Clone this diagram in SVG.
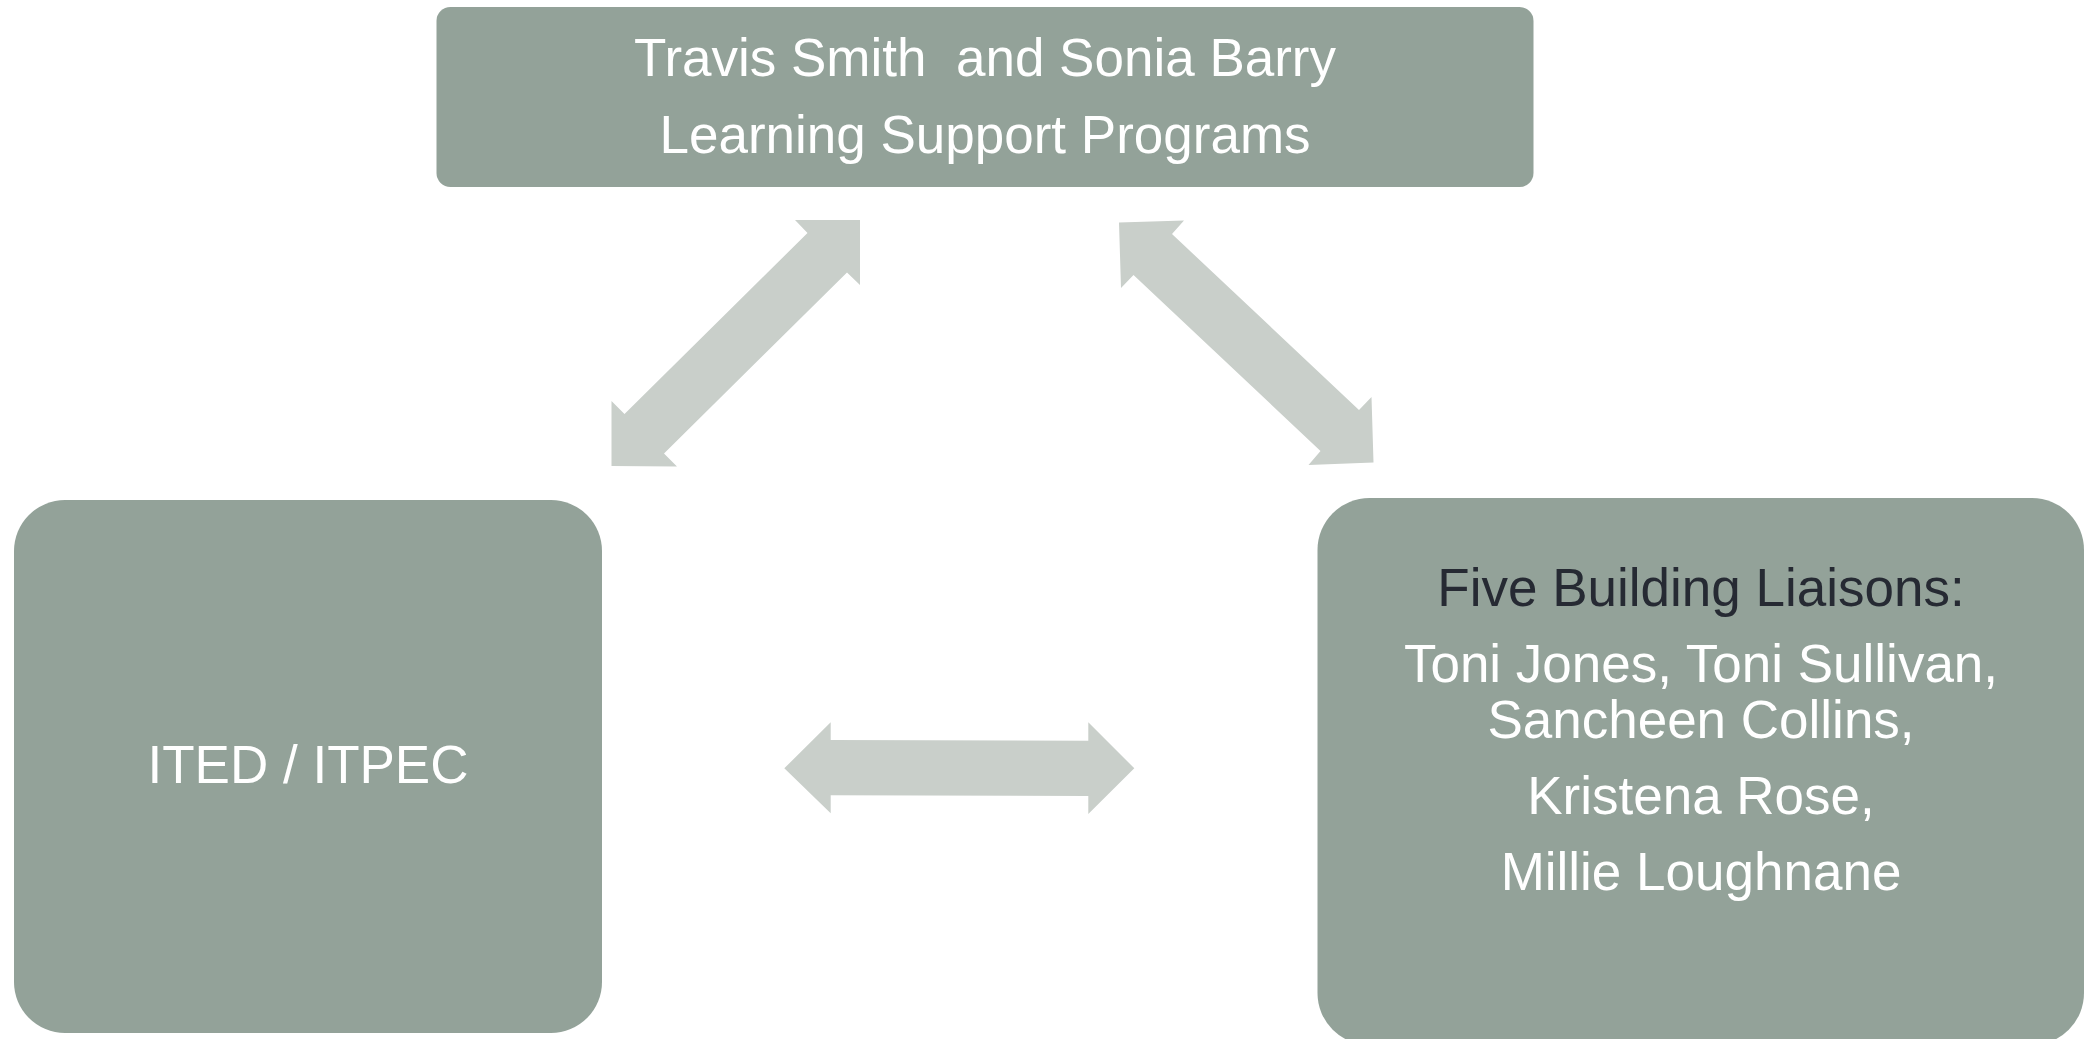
<svg xmlns="http://www.w3.org/2000/svg" width="2084" height="1039" viewBox="0 0 2084 1039">
<style>
.box{fill:#93a299}
.arr{fill:#c9cfca}
text{font-family:"Liberation Sans",Arial,sans-serif;font-size:53px;text-anchor:middle;fill:#ffffff;white-space:pre}
.dark{fill:#262a33}
</style>
<rect width="2084" height="1039" fill="#ffffff"/>
<g id="connectors">
<polygon class="arr" points="795,220 860,220 860,285 847,272.5 664,453.5 677,466.5 611.5,466 611.5,401 624.5,414 807.5,233"/>
<polygon class="arr" points="1119,222.5 1184,220.5 1172,234 1359,410 1371.5,397 1373.5,462.5 1308.5,465 1320.5,451 1133.5,275 1121,288"/>
<polygon class="arr" points="784.3,768.3 830.7,722.3 830.7,740 1088.3,740.7 1088.3,722.3 1134.3,768.3 1088.3,814 1088.3,796 830.7,795.3 830.7,813.3"/>
</g>
<g id="node-top">
<rect class="box" x="436.5" y="7" width="1097" height="180" rx="14" ry="14"/>
<text x="985" y="76" xml:space="preserve">Travis Smith  and Sonia Barry</text>
<text x="985" y="153">Learning Support Programs</text>
</g>
<g id="node-left">
<rect class="box" x="14" y="500" width="588" height="533" rx="51" ry="51"/>
<text x="308" y="783">ITED / ITPEC</text>
</g>
<g id="node-right">
<rect class="box" x="1317.5" y="498" width="766.5" height="547" rx="52" ry="52"/>
<text x="1701" y="605.5" class="dark">Five Building Liaisons:</text>
<text x="1701" y="682">Toni Jones, Toni Sullivan,</text>
<text x="1701" y="737.5">Sancheen Collins,</text>
<text x="1701" y="814">Kristena Rose,</text>
<text x="1701" y="890">Millie Loughnane</text>
</g>
</svg>
